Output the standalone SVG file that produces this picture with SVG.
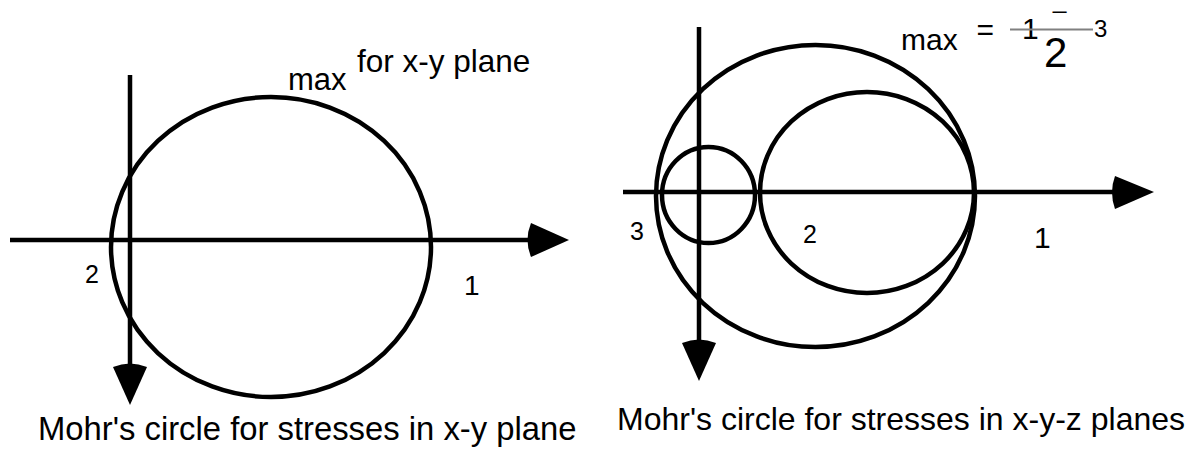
<svg xmlns="http://www.w3.org/2000/svg" width="1201" height="451" viewBox="0 0 1201 451">
<style>
.ln{fill:none;stroke:#000;stroke-width:4.5}
.ah{fill:#000;stroke:none}
.t{font-family:"Liberation Sans",Arial,sans-serif;fill:#000}
</style>
<rect width="1201" height="451" fill="#fff"/>
<g id="left-diagram">
  <ellipse id="circle-xy" class="ln" cx="271" cy="247" rx="160" ry="150"/>
  <text class="t" x="288" y="90" font-size="31">max</text>
  <text class="t" x="357" y="72" font-size="31.5">for x-y plane</text>
  <text class="t" x="85" y="283" font-size="25">2</text>
  <text class="t" x="464" y="295" font-size="28">1</text>
  <text class="t" x="38" y="440" font-size="32.8">Mohr's circle for stresses in x-y plane</text>
</g>
<g id="right-diagram">
  <ellipse id="circle-13" class="ln" cx="815.5" cy="196" rx="159.5" ry="151"/>
  <ellipse id="circle-12" class="ln" cx="867" cy="192.5" rx="107" ry="100.5"/>
  <ellipse id="circle-23" class="ln" cx="708.5" cy="195" rx="46.5" ry="48"/>
  <text class="t" x="901" y="50" font-size="30">max</text>
  <text class="t" x="976.5" y="40" font-size="30">=</text>
  <text class="t" x="1022" y="39" font-size="30">1</text>
  <text class="t" x="1051" y="18" font-size="18" textLength="17" lengthAdjust="spacingAndGlyphs">−</text>
  <line x1="1010" y1="29.5" x2="1093" y2="29.5" stroke="#808080" stroke-width="2"/>
  <text class="t" x="1044" y="67" font-size="42">2</text>
  <text class="t" x="1094" y="37" font-size="24">3</text>
  <text class="t" x="630" y="240" font-size="25">3</text>
  <text class="t" x="803" y="243" font-size="25">2</text>
  <text class="t" x="1034" y="248" font-size="30">1</text>
  <text class="t" x="617" y="430" font-size="32">Mohr's circle for stresses in x-y-z planes</text>
</g>
<g id="connectors">
  <line class="ln" x1="10" y1="240" x2="530" y2="240"/>
  <path class="ah" d="M531 223 Q524 240 531 257 L569 240 Z"/>
  <line class="ln" x1="130" y1="75" x2="130" y2="368"/>
  <path class="ah" d="M113 367 Q130 360 147 367 L130 405 Z"/>
  <line class="ln" x1="623" y1="192" x2="1116" y2="192"/>
  <path class="ah" d="M1115 176 Q1109 192 1115 209 L1154 192 Z"/>
  <line class="ln" x1="699" y1="27" x2="699" y2="344"/>
  <path class="ah" d="M682 343 Q699 336 716 343 L699 381 Z"/>
</g>
</svg>
